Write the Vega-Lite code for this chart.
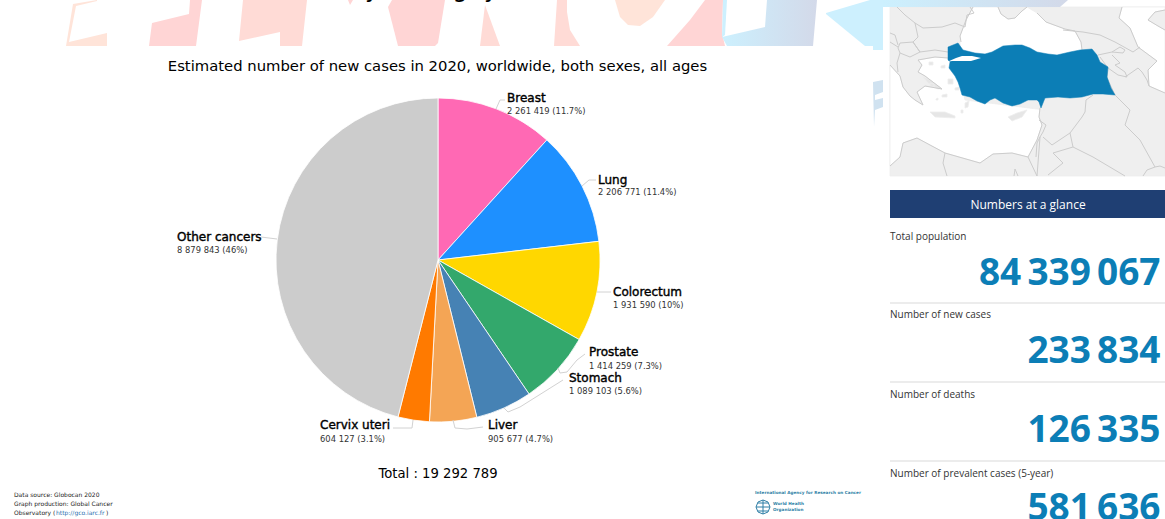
{
  "$schema": "https://vega.github.io/schema/vega-lite/v6.json",
  "width": 1165,
  "height": 519,
  "padding": 0,
  "autosize": "none",
  "background": "white",
  "view": {"stroke": null},
  "config": {"text": {"font": "DejaVu Sans"}},
  "data": {"values": [{"note": "annotation"}]},
  "datasets": {
    "sites": [
      {"rank": 1, "site": "Breast", "cases": 2261419, "detail": "2 261 419 (11.7%)"},
      {"rank": 2, "site": "Lung", "cases": 2206771, "detail": "2 206 771 (11.4%)"},
      {"rank": 3, "site": "Colorectum", "cases": 1931590, "detail": "1 931 590 (10%)"},
      {"rank": 4, "site": "Prostate", "cases": 1414259, "detail": "1 414 259 (7.3%)"},
      {"rank": 5, "site": "Stomach", "cases": 1089103, "detail": "1 089 103 (5.6%)"},
      {"rank": 6, "site": "Liver", "cases": 905677, "detail": "905 677 (4.7%)"},
      {"rank": 7, "site": "Cervix uteri", "cases": 604127, "detail": "604 127 (3.1%)"},
      {"rank": 8, "site": "Other cancers", "cases": 8879843, "detail": "8 879 843 (46%)"}
    ],
    "stats": [
      {"stat": "Total population", "value": "84\u2009339\u2009067"},
      {"stat": "Number of new cases", "value": "233\u2009834"},
      {"stat": "Number of deaths", "value": "126\u2009335"},
      {"stat": "Number of prevalent cases (5-year)", "value": "581\u2009636"}
    ],
    "watermark": [
      {"type": "Feature", "properties": {"tint": "peach"}, "geometry": {"type": "Polygon", "coordinates": [[[97,0],[73,4],[66,46],[107,46],[107,33],[69,42],[76,6],[97,1],[97,0]]]}},
      {"type": "Feature", "properties": {"tint": "pink"}, "geometry": {"type": "Polygon", "coordinates": [[[149,46],[152,23],[189,14],[190,0],[202,0],[196,46],[149,46]]]}},
      {"type": "Feature", "properties": {"tint": "blush"}, "geometry": {"type": "Polygon", "coordinates": [[[243,0],[239,41],[280,32],[280,46],[302,46],[307,0],[243,0]]]}},
      {"type": "Feature", "properties": {"tint": "pink"}, "geometry": {"type": "Polygon", "coordinates": [[[348,0],[353,0],[350,5],[348,0]]]}},
      {"type": "Feature", "properties": {"tint": "pink"}, "geometry": {"type": "Polygon", "coordinates": [[[388,7],[392,0],[445,0],[438,43],[435,46],[398,46],[388,7]]]}},
      {"type": "Feature", "properties": {"tint": "blush"}, "geometry": {"type": "Polygon", "coordinates": [[[485,5],[500,46],[480,46],[485,5]]]}},
      {"type": "Feature", "properties": {"tint": "blush"}, "geometry": {"type": "Polygon", "coordinates": [[[557,0],[554,46],[580,46],[570,30],[567,12],[567,0],[557,0]]]}},
      {"type": "Feature", "properties": {"tint": "peach"}, "geometry": {"type": "Polygon", "coordinates": [[[615,0],[620,17],[628,25],[640,26],[653,17],[665,0],[615,0]]]}},
      {"type": "Feature", "properties": {"tint": "pink"}, "geometry": {"type": "Polygon", "coordinates": [[[705,0],[690,20],[667,46],[725,46],[722,33],[723,0],[705,0]]]}},
      {"type": "Feature", "properties": {"tint": "ice"}, "geometry": {"type": "Polygon", "coordinates": [[[723,0],[727,0],[725,35],[722,37],[723,0]]]}},
      {"type": "Feature", "properties": {"tint": "ice"}, "geometry": {"type": "Polygon", "coordinates": [[[826,13],[870,0],[892,0],[883,7],[883,50],[873,50],[873,46],[865,46],[826,14],[826,13]]]}},
      {"type": "Feature", "properties": {"tint": "mist"}, "geometry": {"type": "Polygon", "coordinates": [[[873,82],[883,80],[883,92],[875,95],[875,100],[883,98],[883,107],[875,110],[874,127],[873,82]]]}}
    ],
    "watermarkBlue": [
      {"type": "Feature", "properties": {"part": "letter"}, "geometry": {"type": "Polygon", "coordinates": [[[722,37],[765,27],[767,0],[817,0],[813,46],[727,46],[722,37]]]}},
      {"type": "Feature", "properties": {"part": "strip"}, "geometry": {"type": "Polygon", "coordinates": [[[883,0],[1068,0],[1060,7],[883,7],[883,0]]]}}
    ],
    "mapFills": [
      {"type": "Feature", "properties": {"area": "land"}, "geometry": {"type": "Polygon", "coordinates": [[[890,7],[1165,7],[1165,176],[890,176],[890,7]]]}},
      {"type": "Feature", "properties": {"area": "sea"}, "geometry": {"type": "Polygon", "coordinates": [[[973,7],[998,7],[1001,14],[1008,19],[1015,18],[1022,11],[1027,7],[1037,13],[1046,22],[1065,29],[1075,31],[1081,42],[1083,52],[1040,58],[990,60],[960,50],[960,36],[966,20],[973,7]]]}},
      {"type": "Feature", "properties": {"area": "sea"}, "geometry": {"type": "Polygon", "coordinates": [[[1122,7],[1119,18],[1130,28],[1138,47],[1157,61],[1148,70],[1149,86],[1165,93],[1165,30],[1158,26],[1148,20],[1155,12],[1165,10],[1165,7],[1122,7]]]}},
      {"type": "Feature", "properties": {"area": "sea"}, "geometry": {"type": "Polygon", "coordinates": [[[890,65],[900,76],[903,87],[910,96],[915,100],[923,105],[917,92],[925,86],[942,89],[925,76],[918,72],[922,65],[918,60],[935,57],[950,58],[960,80],[965,100],[1045,110],[1040,108],[1039,117],[1042,125],[1037,140],[1028,157],[1012,153],[993,154],[980,163],[945,153],[930,145],[917,138],[903,143],[900,157],[890,166],[890,65]]]}},
      {"type": "Feature", "properties": {"area": "island"}, "geometry": {"type": "Polygon", "coordinates": [[[930,112],[945,112],[955,116],[955,118],[935,117],[930,112]]]}},
      {"type": "Feature", "properties": {"area": "island"}, "geometry": {"type": "Polygon", "coordinates": [[[1008,117],[1017,113],[1027,110],[1022,117],[1012,121],[1008,117]]]}},
      {"type": "Feature", "properties": {"area": "island"}, "geometry": {"type": "Polygon", "coordinates": [[[922,76],[930,80],[941,88],[938,89],[928,83],[922,76]]]}},
      {"type": "Feature", "properties": {"area": "island"}, "geometry": {"type": "Polygon", "coordinates": [[[965,103],[969,101],[968,107],[965,108],[965,103]]]}},
      {"type": "Feature", "properties": {"area": "island"}, "geometry": {"type": "Polygon", "coordinates": [[[948,79],[953,79],[953,84],[948,84],[948,79]]]}},
      {"type": "Feature", "properties": {"area": "island"}, "geometry": {"type": "Polygon", "coordinates": [[[942,95],[947,94],[947,97],[942,97],[942,95]]]}},
      {"type": "Feature", "properties": {"area": "island"}, "geometry": {"type": "Polygon", "coordinates": [[[955,88],[959,87],[959,90],[955,90],[955,88]]]}},
      {"type": "Feature", "properties": {"area": "island"}, "geometry": {"type": "Polygon", "coordinates": [[[930,83],[934,84],[934,87],[930,86],[930,83]]]}},
      {"type": "Feature", "properties": {"area": "island"}, "geometry": {"type": "Polygon", "coordinates": [[[941,66],[945,65],[945,68],[941,68],[941,66]]]}},
      {"type": "Feature", "properties": {"area": "island"}, "geometry": {"type": "Polygon", "coordinates": [[[929,62],[933,62],[933,65],[929,65],[929,62]]]}},
      {"type": "Feature", "properties": {"area": "island"}, "geometry": {"type": "Polygon", "coordinates": [[[936,99],[938,98],[938,100],[936,100],[936,99]]]}},
      {"type": "Feature", "properties": {"area": "island"}, "geometry": {"type": "Polygon", "coordinates": [[[961,110],[963,110],[963,113],[961,113],[961,110]]]}}
    ],
    "mapLines": [
      {"type": "Feature", "properties": {}, "geometry": {"type": "MultiLineString", "coordinates": [
        [[897,7],[905,15],[915,23],[923,28],[942,27],[955,23],[965,27],[967,15],[974,13],[970,7]],
        [[915,23],[918,37],[913,42]],
        [[913,42],[920,52],[935,50],[948,52]],
        [[900,43],[913,42],[920,52],[910,57],[900,53],[898,48],[900,43]],
        [[890,33],[895,35],[898,45]],
        [[900,53],[897,63],[898,72]],
        [[890,42],[898,47]],
        [[1093,95],[1086,100],[1085,112],[1082,117],[1070,133],[1052,145],[1043,137]],
        [[1070,133],[1073,147],[1053,153],[1063,163],[1048,175]],
        [[1073,147],[1093,157],[1125,176]],
        [[1115,95],[1130,110],[1125,125],[1140,140],[1155,167],[1147,170],[1143,176]],
        [[1039,120],[1046,125],[1043,132],[1040,137],[1037,143],[1036,157]],
        [[1028,157],[1037,176]],
        [[1040,137],[1037,176]],
        [[945,153],[943,163],[947,176]],
        [[1014,176],[1015,169],[1018,176]],
        [[1063,30],[1083,32],[1100,35],[1115,42],[1133,52],[1140,47]],
        [[1142,72],[1138,68],[1128,75],[1125,77]],
        [[1098,55],[1112,52],[1123,53],[1125,50],[1120,47],[1112,52]],
        [[1112,55],[1120,63],[1115,65],[1125,72],[1127,77],[1118,75],[1108,68],[1100,57]],
        [[1142,72],[1147,80],[1149,86]],
        [[1108,68],[1107,78],[1115,95]],
        [[1155,167],[1160,166],[1165,168]],
        [[973,7],[966,20],[960,36],[961,42]],
        [[998,7],[1001,14],[1008,19],[1015,18],[1022,11],[1027,7]],
        [[1037,13],[1046,22],[1065,29],[1075,31],[1081,42],[1082,50]],
        [[1122,7],[1119,18],[1130,28],[1138,47],[1157,61],[1148,70],[1149,86],[1165,93]],
        [[1165,30],[1158,26],[1148,20],[1155,12],[1165,10]],
        [[890,65],[900,76],[903,87],[910,96],[915,100],[923,105],[917,92],[925,86],[942,89],[925,76],[918,72],[922,65],[918,60],[935,57],[948,58]],
        [[1040,108],[1039,117],[1042,125],[1037,140],[1028,157],[1012,153],[993,154],[980,163],[945,153],[930,145],[917,138],[903,143],[900,157],[890,166]]
      ]}}
    ],
    "turkey": [
      {"type": "Feature", "properties": {"name": "Turkey"}, "geometry": {"type": "Polygon", "coordinates": [[[948,47],[958,43],[963,50],[975,53],[985,54],[992,52],[1003,46],[1015,45],[1022,45],[1030,48],[1037,52],[1048,54],[1057,55],[1070,52],[1080,50],[1092,49],[1097,55],[1100,62],[1108,67],[1107,77],[1111,88],[1115,95],[1103,94],[1093,94],[1082,97],[1070,98],[1058,97],[1045,98],[1043,103],[1041,108],[1039,102],[1037,100],[1028,100],[1020,104],[1012,106],[1003,103],[995,98],[990,100],[985,104],[977,101],[970,97],[962,95],[960,88],[958,82],[955,76],[952,72],[949,68],[950,62],[948,60],[948,47]]]}}
    ],
    "marmara": [
      {"type": "Feature", "properties": {"name": "Sea of Marmara"}, "geometry": {"type": "Polygon", "coordinates": [[[947,62],[956,58],[962,56],[972,56],[981,58],[971,61],[960,61],[952,61],[947,62]]]}}
    ],
    "leaders": [
      {"type": "Feature", "properties": {"site": "Breast"}, "geometry": {"type": "LineString", "coordinates": [[496,109],[500,100],[505,100]]}},
      {"type": "Feature", "properties": {"site": "Lung"}, "geometry": {"type": "LineString", "coordinates": [[582,186],[589,180],[596,180]]}},
      {"type": "Feature", "properties": {"site": "Colorectum"}, "geometry": {"type": "LineString", "coordinates": [[597,292],[611,292]]}},
      {"type": "Feature", "properties": {"site": "Prostate"}, "geometry": {"type": "LineString", "coordinates": [[558,368],[560,373],[567,372],[577,360],[585,354]]}},
      {"type": "Feature", "properties": {"site": "Stomach"}, "geometry": {"type": "LineString", "coordinates": [[504,408],[508,412],[520,407],[563,380]]}},
      {"type": "Feature", "properties": {"site": "Liver"}, "geometry": {"type": "LineString", "coordinates": [[453,420],[455,428],[467,429],[483,427]]}},
      {"type": "Feature", "properties": {"site": "Cervix uteri"}, "geometry": {"type": "LineString", "coordinates": [[413,420],[412,428],[393,428]]}},
      {"type": "Feature", "properties": {"site": "Other cancers"}, "geometry": {"type": "LineString", "coordinates": [[261,237],[277,239]]}}
    ],
    "emblem": [
      {"type": "Feature", "properties": {"part": "globe"}, "geometry": {"type": "MultiLineString", "coordinates": [
        [[763,500],[768,502],[770,507],[768,512],[763,514],[758,512],[756,507],[758,502],[763,500]],
        [[763,500],[763,514]],
        [[756,507],[770,507]],
        [[758,503],[768,503]],
        [[758,511],[768,511]]
      ]}}
    ]
  },
  "resolve": {"scale": {"fill": "independent", "color": "independent", "theta": "independent"}},
  "layer": [
    {
      "description": "Land, seas and islands around Turkey",
      "data": {"name": "mapFills"},
      "mark": {"type": "geoshape", "strokeWidth": 0.8, "stroke": "#eeeeee"},
      "projection": {"type": "identity", "scale": 1, "translate": [0, 0]},
      "encoding": {"fill": {"field": "properties.area", "type": "nominal", "legend": null, "scale": {"domain": ["land", "sea", "island"], "range": ["#efefef", "#ffffff", "#e6e6e6"]}}}
    },
    {
      "description": "Borders and coastlines",
      "data": {"name": "mapLines"},
      "mark": {"type": "geoshape", "filled": false, "fill": null, "stroke": "#cccccc", "strokeWidth": 1},
      "projection": {"type": "identity", "scale": 1, "translate": [0, 0]},
      "encoding": {}
    },
    {
      "data": {"name": "turkey"},
      "mark": {"type": "geoshape", "fill": "#0c7eb6", "stroke": "#0c7eb6", "strokeWidth": 0.5},
      "projection": {"type": "identity", "scale": 1, "translate": [0, 0]},
      "encoding": {}
    },
    {
      "data": {"name": "marmara"},
      "mark": {"type": "geoshape", "fill": "#ffffff", "stroke": null},
      "projection": {"type": "identity", "scale": 1, "translate": [0, 0]},
      "encoding": {}
    },
    {
      "description": "Faded banner lettering along the top edge",
      "data": {"name": "watermark"},
      "mark": {"type": "geoshape", "stroke": null},
      "projection": {"type": "identity", "scale": 1, "translate": [0, 0]},
      "encoding": {"fill": {"field": "properties.tint", "type": "nominal", "legend": null, "scale": {"domain": ["peach", "pink", "blush", "ice", "mist"], "range": ["#ffe4d9", "#ffd5d5", "#ffdbd6", "#cdf0fe", "#d0e2f0"]}}}
    },
    {
      "data": {"name": "watermarkBlue"},
      "mark": {"type": "geoshape", "stroke": null, "fill": {"gradient": "linear", "x1": 0, "y1": 0, "x2": 1, "y2": 0, "stops": [{"offset": 0, "color": "#ccf0fe"}, {"offset": 1, "color": "#d3d9e9"}]}},
      "projection": {"type": "identity", "scale": 1, "translate": [0, 0]},
      "encoding": {}
    },
    {
      "description": "Pie of new cases by cancer site",
      "data": {"name": "sites"},
      "mark": {"type": "arc", "outerRadius": 162, "stroke": "#ffffff", "strokeWidth": 0.8},
      "encoding": {
        "x": {"value": 438},
        "y": {"value": 260},
        "theta": {"field": "cases", "type": "quantitative", "stack": true},
        "order": {"field": "rank", "type": "ordinal"},
        "color": {"field": "site", "type": "nominal", "legend": null, "scale": {
          "domain": ["Breast", "Lung", "Colorectum", "Prostate", "Stomach", "Liver", "Cervix uteri", "Other cancers"],
          "range": ["#ff69b4", "#1e90ff", "#ffd700", "#33a86c", "#4682b4", "#f4a555", "#ff7a00", "#cccccc"]
        }}
      }
    },
    {
      "description": "Leader lines from slices to labels",
      "data": {"name": "leaders"},
      "mark": {"type": "geoshape", "filled": false, "fill": null, "stroke": "#d2d2d2", "strokeWidth": 1},
      "projection": {"type": "identity", "scale": 1, "translate": [0, 0]},
      "encoding": {}
    },
    {"data": {"name": "sites"}, "transform": [{"filter": "datum.site === 'Breast'"}], "mark": {"type": "text", "align": "left", "baseline": "middle", "fontSize": 12, "stroke": "#000", "strokeWidth": 0.4}, "encoding": {"x": {"value": 507}, "y": {"value": 98}, "text": {"field": "site"}}},
    {"data": {"name": "sites"}, "transform": [{"filter": "datum.site === 'Breast'"}], "mark": {"type": "text", "align": "left", "baseline": "middle", "fontSize": 8.4, "fill": "#333"}, "encoding": {"x": {"value": 507}, "y": {"value": 111}, "text": {"field": "detail"}}},
    {"data": {"name": "sites"}, "transform": [{"filter": "datum.site === 'Lung'"}], "mark": {"type": "text", "align": "left", "baseline": "middle", "fontSize": 12, "stroke": "#000", "strokeWidth": 0.4}, "encoding": {"x": {"value": 598}, "y": {"value": 180}, "text": {"field": "site"}}},
    {"data": {"name": "sites"}, "transform": [{"filter": "datum.site === 'Lung'"}], "mark": {"type": "text", "align": "left", "baseline": "middle", "fontSize": 8.4, "fill": "#333"}, "encoding": {"x": {"value": 598}, "y": {"value": 192}, "text": {"field": "detail"}}},
    {"data": {"name": "sites"}, "transform": [{"filter": "datum.site === 'Colorectum'"}], "mark": {"type": "text", "align": "left", "baseline": "middle", "fontSize": 12, "stroke": "#000", "strokeWidth": 0.4}, "encoding": {"x": {"value": 613}, "y": {"value": 292}, "text": {"field": "site"}}},
    {"data": {"name": "sites"}, "transform": [{"filter": "datum.site === 'Colorectum'"}], "mark": {"type": "text", "align": "left", "baseline": "middle", "fontSize": 8.4, "fill": "#333"}, "encoding": {"x": {"value": 613}, "y": {"value": 305}, "text": {"field": "detail"}}},
    {"data": {"name": "sites"}, "transform": [{"filter": "datum.site === 'Prostate'"}], "mark": {"type": "text", "align": "left", "baseline": "middle", "fontSize": 12, "stroke": "#000", "strokeWidth": 0.4}, "encoding": {"x": {"value": 589}, "y": {"value": 352}, "text": {"field": "site"}}},
    {"data": {"name": "sites"}, "transform": [{"filter": "datum.site === 'Prostate'"}], "mark": {"type": "text", "align": "left", "baseline": "middle", "fontSize": 8.4, "fill": "#333"}, "encoding": {"x": {"value": 589}, "y": {"value": 366}, "text": {"field": "detail"}}},
    {"data": {"name": "sites"}, "transform": [{"filter": "datum.site === 'Stomach'"}], "mark": {"type": "text", "align": "left", "baseline": "middle", "fontSize": 12, "stroke": "#000", "strokeWidth": 0.4}, "encoding": {"x": {"value": 569}, "y": {"value": 378}, "text": {"field": "site"}}},
    {"data": {"name": "sites"}, "transform": [{"filter": "datum.site === 'Stomach'"}], "mark": {"type": "text", "align": "left", "baseline": "middle", "fontSize": 8.4, "fill": "#333"}, "encoding": {"x": {"value": 569}, "y": {"value": 391}, "text": {"field": "detail"}}},
    {"data": {"name": "sites"}, "transform": [{"filter": "datum.site === 'Liver'"}], "mark": {"type": "text", "align": "left", "baseline": "middle", "fontSize": 12, "stroke": "#000", "strokeWidth": 0.4}, "encoding": {"x": {"value": 488}, "y": {"value": 425}, "text": {"field": "site"}}},
    {"data": {"name": "sites"}, "transform": [{"filter": "datum.site === 'Liver'"}], "mark": {"type": "text", "align": "left", "baseline": "middle", "fontSize": 8.4, "fill": "#333"}, "encoding": {"x": {"value": 488}, "y": {"value": 439}, "text": {"field": "detail"}}},
    {"data": {"name": "sites"}, "transform": [{"filter": "datum.site === 'Cervix uteri'"}], "mark": {"type": "text", "align": "left", "baseline": "middle", "fontSize": 12, "stroke": "#000", "strokeWidth": 0.4}, "encoding": {"x": {"value": 320}, "y": {"value": 425}, "text": {"field": "site"}}},
    {"data": {"name": "sites"}, "transform": [{"filter": "datum.site === 'Cervix uteri'"}], "mark": {"type": "text", "align": "left", "baseline": "middle", "fontSize": 8.4, "fill": "#333"}, "encoding": {"x": {"value": 320}, "y": {"value": 439}, "text": {"field": "detail"}}},
    {"data": {"name": "sites"}, "transform": [{"filter": "datum.site === 'Other cancers'"}], "mark": {"type": "text", "align": "left", "baseline": "middle", "fontSize": 12, "stroke": "#000", "strokeWidth": 0.4}, "encoding": {"x": {"value": 177}, "y": {"value": 237}, "text": {"field": "site"}}},
    {"data": {"name": "sites"}, "transform": [{"filter": "datum.site === 'Other cancers'"}], "mark": {"type": "text", "align": "left", "baseline": "middle", "fontSize": 8.4, "fill": "#333"}, "encoding": {"x": {"value": 177}, "y": {"value": 250}, "text": {"field": "detail"}}},
    {"mark": {"type": "text", "align": "center", "baseline": "middle", "fontSize": 14.8, "fill": "#000"}, "encoding": {"x": {"value": 437.5}, "y": {"value": 67}, "text": {"value": "Estimated number of new cases in 2020, worldwide, both sexes, all ages"}}},
    {"mark": {"type": "text", "align": "center", "baseline": "middle", "fontSize": 13.2, "fill": "#000"}, "encoding": {"x": {"value": 438}, "y": {"value": 474}, "text": {"value": "Total : 19 292 789"}}},
    {"mark": {"type": "text", "align": "center", "baseline": "alphabetic", "fontSize": 24, "fill": "#000"}, "encoding": {"x": {"value": 372}, "y": {"value": -3}, "text": {"value": "y"}}},
    {"mark": {"type": "text", "align": "center", "baseline": "alphabetic", "fontSize": 24, "fill": "#000"}, "encoding": {"x": {"value": 460}, "y": {"value": -3}, "text": {"value": "g"}}},
    {"mark": {"type": "text", "align": "center", "baseline": "alphabetic", "fontSize": 24, "fill": "#000"}, "encoding": {"x": {"value": 491}, "y": {"value": -3}, "text": {"value": "y"}}},
    {"mark": {"type": "text", "align": "left", "baseline": "middle", "fontSize": 6, "fill": "#222"}, "encoding": {"x": {"value": 14}, "y": {"value": 495}, "text": {"value": "Data source: Globocan 2020"}}},
    {"mark": {"type": "text", "align": "left", "baseline": "middle", "fontSize": 6, "fill": "#222"}, "encoding": {"x": {"value": 14}, "y": {"value": 504}, "text": {"value": "Graph production: Global Cancer"}}},
    {"mark": {"type": "text", "align": "left", "baseline": "middle", "fontSize": 6, "fill": "#222"}, "encoding": {"x": {"value": 14}, "y": {"value": 513}, "text": {"value": "Observatory ("}}},
    {"mark": {"type": "text", "align": "left", "baseline": "middle", "fontSize": 6, "fill": "#2a6fb0"}, "encoding": {"x": {"value": 56}, "y": {"value": 513}, "text": {"value": "http://gco.iarc.fr"}}},
    {"mark": {"type": "text", "align": "left", "baseline": "middle", "fontSize": 6, "fill": "#222"}, "encoding": {"x": {"value": 106}, "y": {"value": 513}, "text": {"value": ")"}}},
    {"mark": {"type": "text", "align": "left", "baseline": "middle", "fontSize": 4.2, "fontWeight": "bold", "fill": "#2f7fa6"}, "encoding": {"x": {"value": 755}, "y": {"value": 493}, "text": {"value": "International Agency for Research on Cancer"}}},
    {"mark": {"type": "text", "align": "left", "baseline": "middle", "fontSize": 4.2, "fontWeight": "bold", "fill": "#2f7fa6"}, "encoding": {"x": {"value": 773}, "y": {"value": 504}, "text": {"value": "World Health"}}},
    {"mark": {"type": "text", "align": "left", "baseline": "middle", "fontSize": 4.2, "fontWeight": "bold", "fill": "#2f7fa6"}, "encoding": {"x": {"value": 773}, "y": {"value": 510}, "text": {"value": "Organization"}}},
    {
      "data": {"name": "emblem"},
      "mark": {"type": "geoshape", "filled": false, "fill": null, "stroke": "#2f7fa6", "strokeWidth": 1},
      "projection": {"type": "identity", "scale": 1, "translate": [0, 0]},
      "encoding": {}
    },
    {"mark": {"type": "rect", "fill": "#1f3f73"}, "encoding": {"x": {"value": 890}, "x2": {"value": 1165}, "y": {"value": 190}, "y2": {"value": 218}}},
    {"mark": {"type": "text", "align": "center", "baseline": "middle", "font": "Open Sans", "fontSize": 12, "fill": "#ffffff"}, "encoding": {"x": {"value": 1028}, "y": {"value": 204.5}, "text": {"value": "Numbers at a glance"}}},
    {"mark": {"type": "rule", "stroke": "#e6e6e6", "strokeWidth": 1.5}, "encoding": {"x": {"value": 890}, "x2": {"value": 1165}, "y": {"value": 303}}},
    {"mark": {"type": "rule", "stroke": "#e6e6e6", "strokeWidth": 1.5}, "encoding": {"x": {"value": 890}, "x2": {"value": 1165}, "y": {"value": 382}}},
    {"mark": {"type": "rule", "stroke": "#e6e6e6", "strokeWidth": 1.5}, "encoding": {"x": {"value": 890}, "x2": {"value": 1165}, "y": {"value": 461}}},
    {"data": {"name": "stats"}, "transform": [{"filter": "datum.stat === 'Total population'"}], "mark": {"type": "text", "align": "left", "baseline": "middle", "font": "Open Sans", "fontSize": 10, "fill": "#333"}, "encoding": {"x": {"value": 890}, "y": {"value": 236.5}, "text": {"field": "stat"}}},
    {"data": {"name": "stats"}, "transform": [{"filter": "datum.stat === 'Total population'"}], "mark": {"type": "text", "align": "right", "baseline": "alphabetic", "font": "Open Sans", "fontWeight": "bold", "fontSize": 37, "fill": "#0c7eb6"}, "encoding": {"x": {"value": 1160.5}, "y": {"value": 285}, "text": {"field": "value"}}},
    {"data": {"name": "stats"}, "transform": [{"filter": "datum.stat === 'Number of new cases'"}], "mark": {"type": "text", "align": "left", "baseline": "middle", "font": "Open Sans", "fontSize": 10, "fill": "#333"}, "encoding": {"x": {"value": 890}, "y": {"value": 315}, "text": {"field": "stat"}}},
    {"data": {"name": "stats"}, "transform": [{"filter": "datum.stat === 'Number of new cases'"}], "mark": {"type": "text", "align": "right", "baseline": "alphabetic", "font": "Open Sans", "fontWeight": "bold", "fontSize": 37, "fill": "#0c7eb6"}, "encoding": {"x": {"value": 1160.5}, "y": {"value": 363}, "text": {"field": "value"}}},
    {"data": {"name": "stats"}, "transform": [{"filter": "datum.stat === 'Number of deaths'"}], "mark": {"type": "text", "align": "left", "baseline": "middle", "font": "Open Sans", "fontSize": 10, "fill": "#333"}, "encoding": {"x": {"value": 890}, "y": {"value": 394.5}, "text": {"field": "stat"}}},
    {"data": {"name": "stats"}, "transform": [{"filter": "datum.stat === 'Number of deaths'"}], "mark": {"type": "text", "align": "right", "baseline": "alphabetic", "font": "Open Sans", "fontWeight": "bold", "fontSize": 37, "fill": "#0c7eb6"}, "encoding": {"x": {"value": 1160.5}, "y": {"value": 442}, "text": {"field": "value"}}},
    {"data": {"name": "stats"}, "transform": [{"filter": "datum.stat === 'Number of prevalent cases (5-year)'"}], "mark": {"type": "text", "align": "left", "baseline": "middle", "font": "Open Sans", "fontSize": 10, "fill": "#333"}, "encoding": {"x": {"value": 890}, "y": {"value": 473.5}, "text": {"field": "stat"}}},
    {"data": {"name": "stats"}, "transform": [{"filter": "datum.stat === 'Number of prevalent cases (5-year)'"}], "mark": {"type": "text", "align": "right", "baseline": "alphabetic", "font": "Open Sans", "fontWeight": "bold", "fontSize": 37, "fill": "#0c7eb6"}, "encoding": {"x": {"value": 1160.5}, "y": {"value": 520}, "text": {"field": "value"}}}
  ]
}
